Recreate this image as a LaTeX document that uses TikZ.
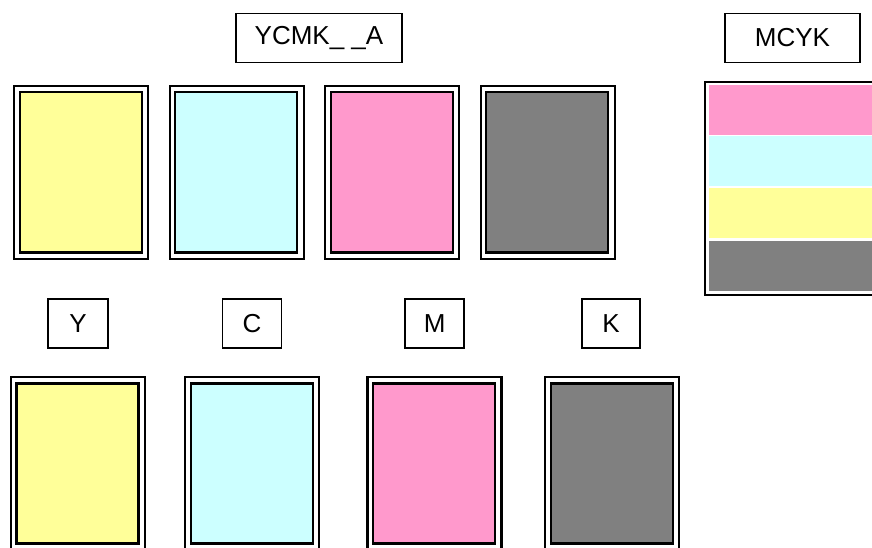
\documentclass[tikz,border=0pt]{standalone}
\usepackage{fontspec}
\setmainfont{Liberation Sans}
\usetikzlibrary{positioning}
\definecolor{inkY}{HTML}{FFFF99}
\definecolor{inkC}{HTML}{CCFFFF}
\definecolor{inkM}{HTML}{FF99CC}
\definecolor{inkK}{HTML}{808080}

\begin{document}
\begin{tikzpicture}[
			x=1pt, y=-1pt,
			frame/.style={
				draw=black, line width=2.2pt, inner sep=0pt, anchor=north west,
				minimum width=134pt, minimum height=173pt
			},
			swatch/.style={
				draw=black, line width=2.2pt, inner sep=0pt, anchor=north west,
				minimum width=122pt, minimum height=160pt
			},
			tag/.style={
				draw=black, line width=1.9pt, inner sep=0pt,
				minimum height=49pt, font=\fontsize{26}{30}\selectfont
			},
			strip/.style={inner sep=0pt, anchor=north west, minimum width=200pt},
			]
			\useasboundingbox (0,0) rectangle (872,548);
			\clip (0,0) rectangle (872,548);
			
			% ── Top row: YCMK_ _A ────────────────────────────────────────────
			\node[tag, minimum width=166pt] (tagycmk) at (319,38) {YCMK\_ \_A};
			
			\node[frame] (ty) at (13,   85) {};
			\node[frame] (tc) at (168.5,85) {};
			\node[frame] (tm) at (324,  85) {};
			\node[frame] (tk) at (479.5,85) {};
			
			\node[swatch, fill=inkY] (tys) at ([shift={(5.7,6.3)}]ty.north west) {};
			\node[swatch, fill=inkC] (tcs) at ([shift={(5.7,6.3)}]tc.north west) {};
			\node[swatch, fill=inkM] (tms) at ([shift={(5.7,6.3)}]tm.north west) {};
			\node[swatch, fill=inkK] (tks) at ([shift={(5.7,6.3)}]tk.north west) {};
			
			% ── Right: MCYK stack ───────────────────────────────────────────
			\node[tag, minimum width=135pt] (tagmcyk) at (792.5,38) {MCYK};
			
			\node[frame, minimum width=200pt, minimum height=212.8pt] (stack) at (703.8,81) {};
			
			\node[strip, fill=inkM, minimum height=50pt] (sm) at (709,85)  {};
			\node[strip, fill=inkC, minimum height=49.7pt] (sc) at (709,136) {};
			\node[strip, fill=inkY, minimum height=50pt] (sy) at (709,187.7) {};
			\node[strip, fill=inkK, minimum height=50.3pt] (sk) at (709,240.7) {};
			
			% ── Bottom row: single inks ─────────────────────────────────────
			\node[tag, minimum width=59.4pt] (tagy) at (78,   323.7) {Y};
			\node[tag, minimum width=59pt]   (tagc) at (252,  323.7) {C};
			\node[tag, minimum width=59.3pt] (tagm) at (434.7,323.7) {M};
			\node[tag, minimum width=58.8pt] (tagk) at (611,  323.7) {K};
			
			\node[frame] (by) at (9.7,  376) {};
			\node[frame] (bc) at (184,  376) {};
			\node[frame] (bm) at (366.3,376) {};
			\node[frame] (bk) at (544,  376) {};
			
			\node[swatch, fill=inkY] (bys) at ([shift={(5.7,6.3)}]by.north west) {};
			\node[swatch, fill=inkC] (bcs) at ([shift={(5.7,6.3)}]bc.north west) {};
			\node[swatch, fill=inkM] (bms) at ([shift={(5.7,6.3)}]bm.north west) {};
			\node[swatch, fill=inkK] (bks) at ([shift={(5.7,6.3)}]bk.north west) {};
			
		\end{tikzpicture}
\end{document}
